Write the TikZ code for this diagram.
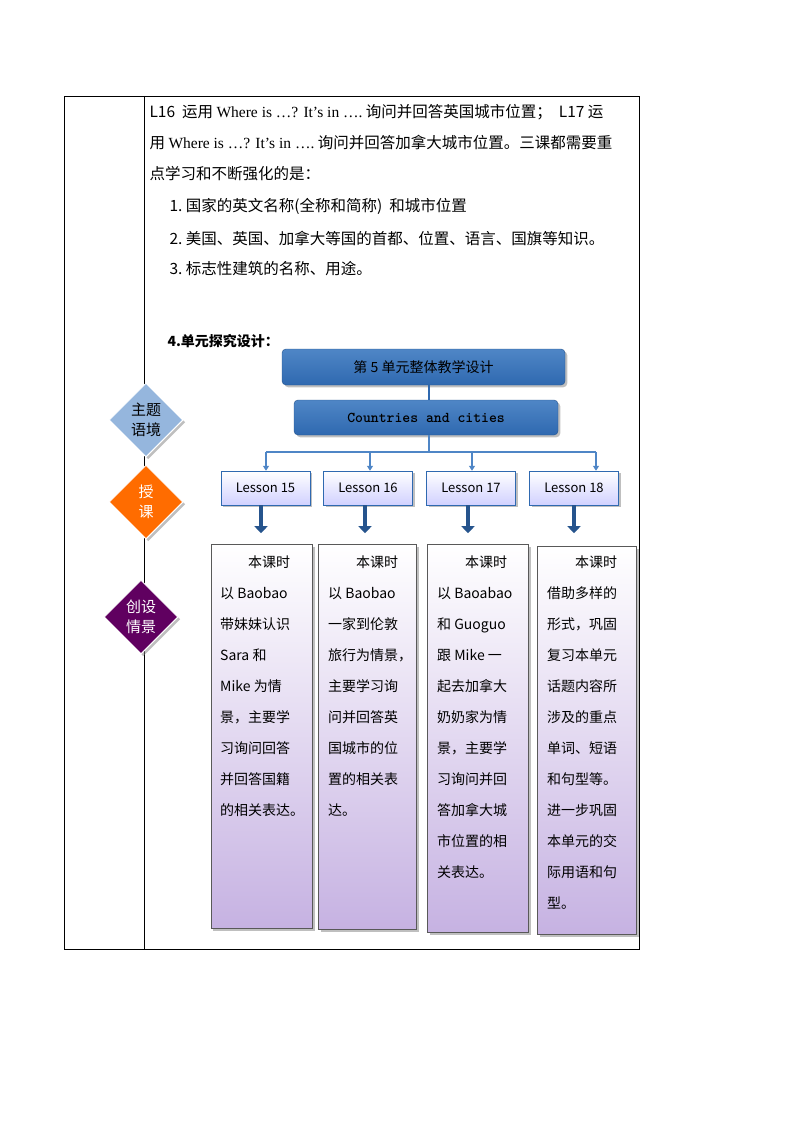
\documentclass[tikz,border=0pt]{standalone}
\usepackage{fontspec}
\setmainfont{Liberation Serif}
\newfontfamily\cjk{Noto Sans CJK SC}
\usetikzlibrary{shapes.geometric,arrows.meta,shadows}
\definecolor{dblue}{HTML}{2F69B0}
\definecolor{lblue}{HTML}{4F86C6}
\definecolor{lav}{HTML}{C6B2E2}
\newcommand{\fs}{\fontsize{14}{31}\selectfont}
\newcommand{\fp}{\fontsize{15.5}{31}\selectfont}
\begin{document}
\begin{tikzpicture}[x=1pt,y=-1pt,
 bigbox/.style={draw=dblue!80!black,rounded corners=4pt,top color=lblue,bottom color=dblue,drop shadow,inner sep=0pt,font=\cjk\fontsize{14}{16}\selectfont},
 lesbox/.style={draw=dblue,top color=white,bottom color=blue!18,drop shadow,minimum width=89pt,minimum height=34pt,font=\cjk\fontsize{13}{15}\selectfont},
 txtbox/.style={draw=gray!70!black,top color=white,bottom color=lav,drop shadow,anchor=north west},
 dia/.style={diamond,aspect=1,minimum size=74pt,inner sep=0pt,font=\cjk\fontsize{15}{20}\selectfont,align=center,draw=white,line width=1pt,drop shadow},
 fat/.style={-{Triangle[length=7pt,width=13pt]},line width=4pt,draw=dblue!80!black},
 thin/.style={-{Triangle[length=5pt,width=6pt]},line width=1.5pt,draw=lblue},
 ln/.style={anchor=west,font=\cjk\fp}]
\useasboundingbox (0,0) rectangle (794,1123);
\draw (64,96) rectangle (639,949);
\draw (144,96) -- (144,949);
\node[ln] (t1) at (146,112) {L16\ \ 运用 {\rmfamily Where is …? It's in ….}\ 询问并回答英国城市位置；\ \ L17 运};
\node[ln] (t2) at (146,143) {用 {\rmfamily Where is …? It's in ….}\ 询问并回答加拿大城市位置。三课都需要重};
\node[ln] (t3) at (146,174) {点学习和不断强化的是：};
\node[ln] (t4) at (166,206) {1.\ 国家的英文名称(全称和简称)\ \ 和城市位置};
\node[ln] (t5) at (166,238) {2.\ 美国、英国、加拿大等国的首都、位置、语言、国旗等知识。};
\node[ln] (t6) at (166,269) {3.\ 标志性建筑的名称、用途。};
\node[ln,font=\cjk\fs\bfseries] (t7) at (164,341) {4.单元探究设计：};
\node[bigbox,minimum width=283pt,minimum height=36pt] (top) at (423.5,367) {第 5 单元整体教学设计};
\node[bigbox,minimum width=264pt,minimum height=35pt,font=\ttfamily\bfseries\fontsize{15}{16}\selectfont] (cc) at (426,417.5) {Countries and cities};
\node[lesbox] (l1) at (265.5,488) {Lesson 15};
\node[lesbox] (l2) at (368,488) {Lesson 16};
\node[lesbox] (l3) at (471,488) {Lesson 17};
\node[lesbox] (l4) at (574,488) {Lesson 18};
\draw[line width=1.5pt,draw=dblue] (top.south -| 429,0) -- (cc.north -| 429,0);
\coordinate (br) at (429,452);
\draw[line width=1.5pt,draw=lblue] (cc.south -| br) -- (br);
\draw[line width=1.5pt,draw=lblue] (266,452) -- (596,452);
\draw[thin] (266,452) -- (l1.north -| 266,0);
\draw[thin] (370,452) -- (l2.north -| 370,0);
\draw[thin] (472,452) -- (l3.north -| 472,0);
\draw[thin] (596,452) -- (l4.north -| 596,0);
\node[txtbox,minimum width=101pt,minimum height=384pt] (b1) at (211,544) {};
\node[txtbox,minimum width=98pt,minimum height=385pt] (b2) at (318,544) {};
\node[txtbox,minimum width=101pt,minimum height=388pt] (b3) at (427,544) {};
\node[txtbox,minimum width=99pt,minimum height=388pt] (b4) at (537,546) {};
\draw[fat] (l1.south -| 261,0) -- ++(0,28);
\draw[fat] (l2.south -| 365,0) -- ++(0,28);
\draw[fat] (l3.south -| 468,0) -- ++(0,28);
\draw[fat] (l4.south -| 574,0) -- ++(0,28);
\node[anchor=north west,inner sep=0pt] (x1) at (220,556) {\parbox{96pt}{\cjk\fs\raggedright\hspace*{2em}本课时\\以 Baobao\\带妹妹认识\\Sara 和\\Mike 为情\\景，主要学\\习询问回答\\并回答国籍\\的相关表达。}};
\node[anchor=north west,inner sep=0pt] (x2) at (328,556) {\parbox{90pt}{\cjk\fs\raggedright\hspace*{2em}本课时\\以 Baobao\\一家到伦敦\\旅行为情景，\\主要学习询\\问并回答英\\国城市的位\\置的相关表\\达。}};
\node[anchor=north west,inner sep=0pt] (x3) at (437,556) {\parbox{92pt}{\cjk\fs\raggedright\hspace*{2em}本课时\\以 Baoabao\\和 Guoguo\\跟 Mike 一\\起去加拿大\\奶奶家为情\\景，主要学\\习询问并回\\答加拿大城\\市位置的相\\关表达。}};
\node[anchor=north west,inner sep=0pt] (x4) at (547,556) {\parbox{90pt}{\cjk\fs\raggedright\hspace*{2em}本课时\\借助多样的\\形式，巩固\\复习本单元\\话题内容所\\涉及的重点\\单词、短语\\和句型等。\\进一步巩固\\本单元的交\\际用语和句\\型。}};
\node[dia,fill=lblue!60] (d1) at (146,420) {主题\\语境};
\node[dia,fill=orange!85!red,text=white] (d2) at (146,502) {授\\课};
\node[dia,fill=violet!75!black,text=white] (d3) at (141,617) {创设\\情景};
\end{tikzpicture}
\end{document}
